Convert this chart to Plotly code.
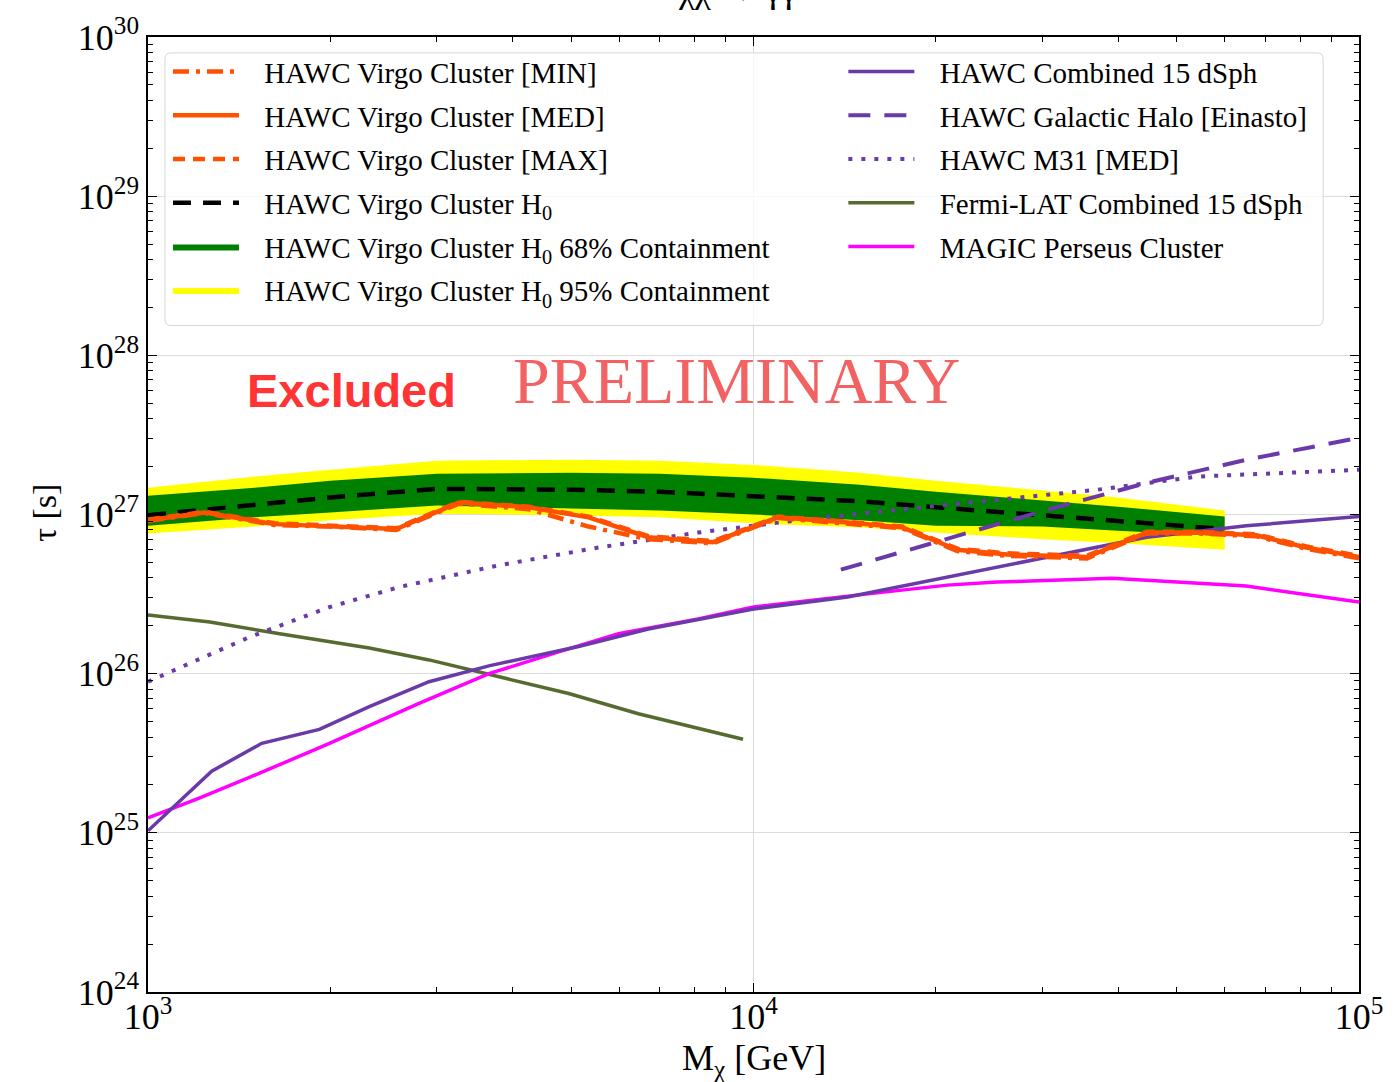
import plotly.graph_objects as go

# ---------------- data (mass in GeV, lifetime in s) ----------------
band_mass = [1000, 1500, 2000, 3000, 5000, 7000, 10000, 15000, 20000, 30000, 40000, 60000]
h0_median = [9.9e26, 1.14e27, 1.28e27, 1.45e27, 1.43e27, 1.39e27, 1.31e27, 1.21e27, 1.11e27, 9.9e26, 9.0e26, 8.1e26]
h0_68_hi = [1.31e27, 1.47e27, 1.63e27, 1.80e27, 1.83e27, 1.80e27, 1.70e27, 1.54e27, 1.39e27, 1.22e27, 1.12e27, 9.7e26]
h0_68_lo = [8.5e26, 9.6e26, 1.03e27, 1.14e27, 1.09e27, 1.06e27, 1.00e27, 9.2e26, 8.5e26, 8.4e26, 7.9e26, 7.3e26]
h0_95_hi = [1.47e27, 1.73e27, 1.91e27, 2.18e27, 2.21e27, 2.18e27, 2.05e27, 1.83e27, 1.63e27, 1.41e27, 1.28e27, 1.06e27]
h0_95_lo = [7.6e26, 8.4e26, 9.2e26, 1.01e27, 9.9e26, 9.6e26, 8.8e26, 8.3e26, 7.7e26, 7.0e26, 6.6e26, 6.0e26]

virgo_mass = [1000, 1241, 1618, 1994, 2570, 3263, 4255, 5341, 6705, 8577, 10972,
              14310, 17620, 21710, 26240, 35540, 44610, 53920, 67700, 81810, 100000]
virgo_med = [9.2e26, 1.03e27, 8.7e26, 8.4e26, 8.1e26, 1.19e27, 1.11e27, 9.6e26, 7.2e26, 6.7e26, 9.6e26,
             8.9e26, 8.3e26, 6.0e26, 5.6e26, 5.4e26, 7.7e26, 7.7e26, 7.4e26, 6.2e26, 5.4e26]
virgo_min = [9.1e26, 1.02e27, 8.6e26, 8.4e26, 8.0e26, 1.17e27, 1.08e27, 8.4e26, 7.0e26, 6.6e26, 9.5e26,
             8.8e26, 8.2e26, 5.9e26, 5.5e26, 5.3e26, 7.6e26, 7.6e26, 7.3e26, 6.1e26, 5.3e26]
virgo_max = [9.3e26, 1.04e27, 8.8e26, 8.5e26, 8.2e26, 1.20e27, 1.12e27, 9.7e26, 7.3e26, 6.8e26, 9.7e26,
             9.0e26, 8.4e26, 6.1e26, 5.7e26, 5.5e26, 7.8e26, 7.8e26, 7.5e26, 6.3e26, 5.5e26]

dsph_mass = [1000, 1129, 1274, 1541, 1919, 2320, 2912, 3656, 5142, 6705, 10000,
             14310, 20900, 30530, 44610, 65160, 100000]
dsph_tau = [1.03e25, 1.58e25, 2.44e25, 3.65e25, 4.47e25, 6.2e25, 8.9e25, 1.12e26, 1.48e26, 1.91e26, 2.55e26,
            3.03e26, 4.04e26, 5.4e26, 7.2e26, 8.5e26, 9.7e26]

halo_mass = [13940, 20900, 30530, 44610, 65160, 100000]
halo_tau = [4.5e26, 7.0e26, 1.07e27, 1.58e27, 2.21e27, 3.03e27]

m31_mass = [1000, 1472, 1994, 2598, 3797, 5546, 8101, 11840, 17290, 25260, 36910, 53920, 100000]
m31_tau = [8.9e25, 1.70e26, 2.62e26, 3.5e26, 4.8e26, 6.2e26, 7.7e26, 9.2e26, 1.07e27, 1.24e27, 1.43e27, 1.73e27, 1.91e27]

fermi_mass = [1000, 1265, 1650, 2320, 2912, 3797, 4952, 6454, 9610]
fermi_tau = [2.34e26, 2.11e26, 1.78e26, 1.45e26, 1.22e26, 9.6e25, 7.5e25, 5.6e25, 3.87e25]

magic_mass = [1000, 1218, 1529, 1994, 2803, 3656, 4767, 5984, 8101, 10000,
              14310, 20900, 25260, 39070, 65160, 100000]
magic_tau = [1.24e25, 1.66e25, 2.37e25, 3.65e25, 6.5e25, 1.0e26, 1.37e26, 1.78e26, 2.21e26, 2.62e26,
             3.07e26, 3.6e26, 3.76e26, 3.98e26, 3.55e26, 2.82e26]

x_ticks = [1e3, 1e4, 1e5]
x_ticktext = ["10<sup>3</sup>", "10<sup>4</sup>", "10<sup>5</sup>"]
y_ticks = [1e24, 1e25, 1e26, 1e27, 1e28, 1e29, 1e30]
y_ticktext = ["10<sup>%d</sup>" % p for p in range(24, 31)]

# ---------------- styling ----------------
SERIF = "Liberation Serif"
ORANGE = "#ff5000"
PURPLE = "#6a3aa8"
OLIVE = "#556b2f"
MAGENTA = "#ff00ff"
PAD = "\u2002\u2009"  # gap between legend swatch and label

fig = go.Figure()


def band(lo, hi, color, name, group):
    return go.Scatter(
        x=band_mass + band_mass[::-1],
        y=hi + lo[::-1],
        fill="toself", fillcolor=color, mode="lines",
        line=dict(width=0, color=color),
        name=PAD + name, legend="legend", legendgroup=str(group), legendrank=group,
        hoverinfo="skip",
    )


def curve(x, y, color, width, dash, name, legend, rank):
    return go.Scatter(
        x=x, y=y, mode="lines",
        line=dict(color=color, width=width, dash=dash),
        name=PAD + name, legend=legend, legendgroup=str(rank), legendrank=rank,
    )


fig.add_trace(band(h0_95_lo, h0_95_hi, "#ffff00", "HAWC Virgo Cluster H<sub>0</sub> 95% Containment", 6))
fig.add_trace(band(h0_68_lo, h0_68_hi, "#008000", "HAWC Virgo Cluster H<sub>0</sub> 68% Containment", 5))
fig.add_trace(curve(band_mass, h0_median, "black", 4.5, "18px,12px", "HAWC Virgo Cluster H<sub>0</sub>", "legend", 4))
fig.add_trace(curve(fermi_mass, fermi_tau, OLIVE, 3.5, "solid", "Fermi-LAT Combined 15 dSph", "legend2", 14))
fig.add_trace(curve(magic_mass, magic_tau, MAGENTA, 3.5, "solid", "MAGIC Perseus Cluster", "legend2", 15))
fig.add_trace(curve(dsph_mass, dsph_tau, PURPLE, 3.5, "solid", "HAWC Combined 15 dSph", "legend2", 11))
fig.add_trace(curve(m31_mass, m31_tau, PURPLE, 4, "4px,9px", "HAWC M31 [MED]", "legend2", 13))
fig.add_trace(curve(halo_mass, halo_tau, PURPLE, 4, "22px,14px", "HAWC Galactic Halo [Einasto]", "legend2", 12))
fig.add_trace(curve(virgo_mass, virgo_max, ORANGE, 4.5, "12px,8px", "HAWC Virgo Cluster [MAX]", "legend", 3))
fig.add_trace(curve(virgo_mass, virgo_min, ORANGE, 4.5, "16px,7px,4px,7px", "HAWC Virgo Cluster [MIN]", "legend", 1))
fig.add_trace(curve(virgo_mass, virgo_med, ORANGE, 4.5, "solid", "HAWC Virgo Cluster [MED]", "legend", 2))

axis_common = dict(
    type="log",
    showline=True, linecolor="black", linewidth=1.5, mirror="ticks",
    ticks="inside", ticklen=9, tickwidth=1.2, tickcolor="black",
    showgrid=True, gridcolor="#dcdcdc", gridwidth=1,
    zeroline=False,
    tickfont=dict(family=SERIF, size=36, color="black"),
)

x_minor = [m * 10 ** e for e in (3, 4) for m in range(2, 10)]
y_minor = [m * 10.0 ** e for e in range(24, 30) for m in range(2, 10)]

fig.update_xaxes(
    range=[3, 5], tickvals=x_ticks, ticktext=x_ticktext, ticklabelstandoff=-8,
    minor=dict(tickvals=x_minor, ticks="inside", ticklen=5, tickcolor="black", showgrid=False),
    **axis_common,
)
fig.update_yaxes(
    range=[24, 30], tickvals=y_ticks, ticktext=y_ticktext,
    minor=dict(tickvals=y_minor, ticks="inside", ticklen=5, tickcolor="black", showgrid=False),
    **axis_common,
)

legend_common = dict(
    bgcolor="rgba(0,0,0,0)", borderwidth=0,
    font=dict(family=SERIF, size=29, color="black"),
    itemwidth=66, traceorder="grouped", tracegroupgap=3,
    xanchor="left", yanchor="top", itemclick=False,
)

# rounded legend frame
px_w, px_h = 1215.0, 960.0
x0, x1 = 17 / px_w, 1179 / px_w
y0, y1 = (992 - 322) / px_h, (992 - 48) / px_h
rx, ry = 6 / px_w, 6 / px_h
frame = (f"M{x0+rx},{y0} L{x1-rx},{y0} Q{x1},{y0} {x1},{y0+ry} L{x1},{y1-ry} Q{x1},{y1} {x1-rx},{y1} "
         f"L{x0+rx},{y1} Q{x0},{y1} {x0},{y1-ry} L{x0},{y0+ry} Q{x0},{y0} {x0+rx},{y0} Z")

fig.update_layout(
    width=1395, height=1082,
    margin=dict(l=148, r=32, t=32, b=90),
    paper_bgcolor="white", plot_bgcolor="white",
    showlegend=True,
    legend=dict(x=0.0165, y=0.9903, **legend_common),
    legend2=dict(x=0.5742, y=0.9903, **legend_common),
    shapes=[dict(type="path", xref="paper", yref="paper", path=frame,
                 line=dict(color="#d6d6d6", width=1), fillcolor="rgba(255,255,255,0.8)",
                 layer="above")],
    annotations=[
        dict(text="<b>Excluded</b>", xref="paper", yref="paper", x=0.168, y=0.630,
             showarrow=False, font=dict(family="Liberation Sans", size=47, color="#ff3535"),
             xanchor="center", yanchor="middle"),
        dict(text="PRELIMINARY", xref="paper", yref="paper", x=0.486, y=0.640,
             showarrow=False, font=dict(family=SERIF, size=66, color="rgba(240,70,70,0.85)"),
             xanchor="center", yanchor="middle"),
        dict(text="χχ → γγ", xref="paper", yref="paper", x=0.487, y=(992 - 7) / px_h,
             showarrow=False, font=dict(family=SERIF, size=36, color="black"),
             xanchor="center", yanchor="bottom"),
        dict(text="τ [s]", xref="paper", yref="paper", x=-0.085, y=0.502, textangle=-90,
             showarrow=False, font=dict(family=SERIF, size=34, color="black"),
             xanchor="center", yanchor="middle"),
        dict(text="M<sub>χ</sub> [GeV]", xref="paper", yref="paper", x=0.5, y=-0.072,
             showarrow=False, font=dict(family=SERIF, size=36, color="black"),
             xanchor="center", yanchor="middle"),
    ],
)

fig.write_html("out.html")
